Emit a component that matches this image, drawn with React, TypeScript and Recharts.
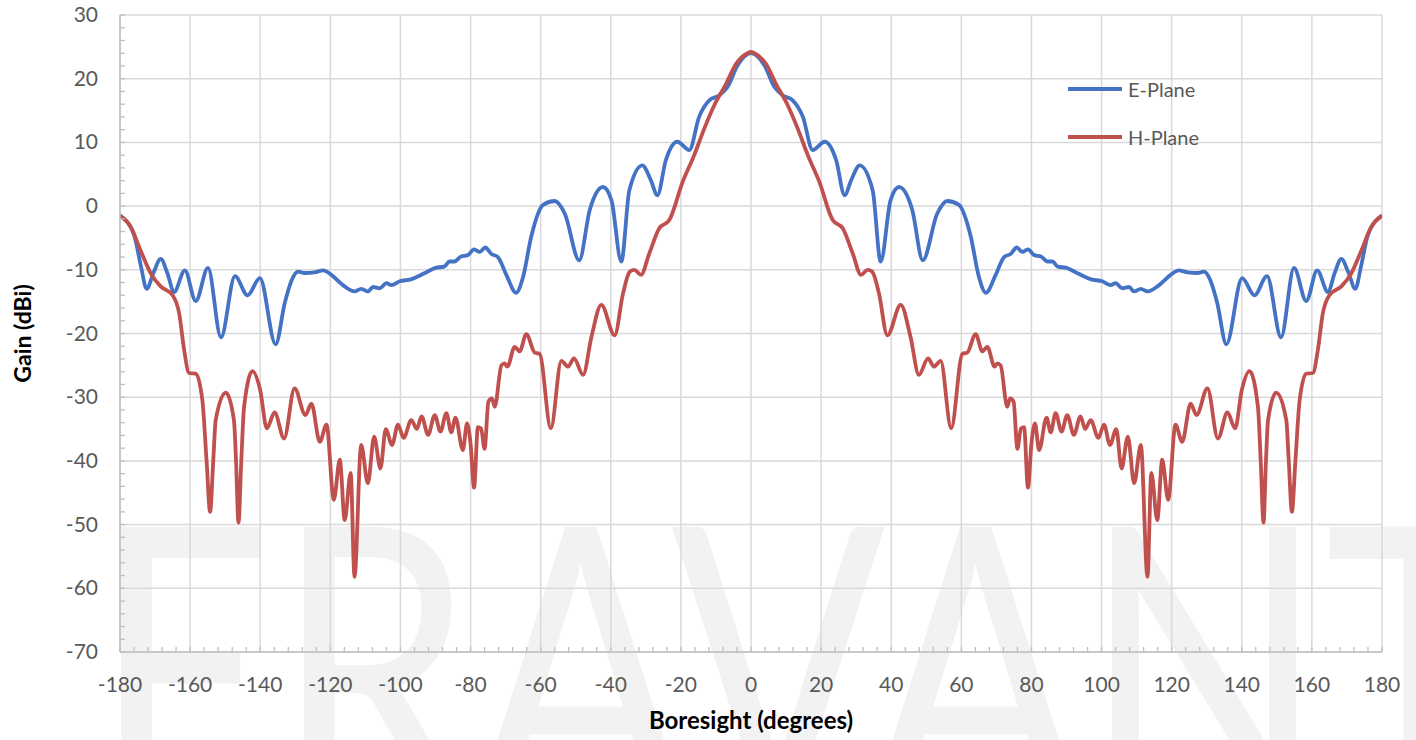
import { LineChart, Line, XAxis, YAxis, CartesianGrid, Legend } from 'recharts';

// E-plane cut (blue)
const E_ANGLES = [
  -180, -176, -174, -172.4, -170.4, -168.4, -166.5, -164.6, -161.5, -158.4, -154.9, -151.2, -147.2, -143.6, -140.1,
  -135.6, -133, -131, -129.2, -127.3, -124.5, -122, -119.7, -116.4, -113.1, -111.2, -109.3, -107.8, -105.9, -104,
  -102.6, -100.2, -97, -93, -90, -87.5, -86, -84.6, -82.7, -80.8, -79, -77.4, -75.8, -74.1, -72.2, -69.8, -67, -65,
  -62.7, -59.3, -56, -53.1, -49, -46, -42.2, -39.8, -37, -34.7, -31, -28.6, -26.7, -24.3, -21, -17.6, -14.8, -11.9,
  -9, -6.7, -3.8, 0,
  3.8, 6.7, 9, 11.9, 14.8, 17.6, 21, 24.3, 26.7, 28.6, 31, 34.7, 37, 39.8, 42.2, 46, 49, 53.1, 56, 59.3, 62.7, 65,
  67, 69.8, 72.2, 74.1, 75.8, 77.4, 79, 80.8, 82.7, 84.6, 86, 87.5, 90, 93, 97, 100.2, 102.6, 104, 105.9, 107.8,
  109.3, 111.2, 113.1, 116.4, 119.7, 122, 124.5, 127.3, 129.2, 131, 133, 135.6, 140.1, 143.6, 147.2, 151.2, 154.9,
  158.4, 161.5, 164.6, 166.5, 168.4, 170.4, 172.4, 174, 176, 180,
];
const E_GAIN = [
  -1.5, -4.5, -9.5, -13, -10.4, -8.3, -10.5, -13.5, -10.1, -14.9, -9.7, -20.6, -11, -14, -11.3,
  -21.7, -15.2, -11.6, -10.3, -10.5, -10.4, -10.1, -10.8, -12.4, -13.4, -13, -13.4, -12.7, -12.9, -12.1,
  -12.4, -11.8, -11.5, -10.5, -9.7, -9.5, -8.7, -8.7, -7.9, -7.7, -6.8, -7.2, -6.5, -7.5, -8, -10.8, -13.6, -11.1,
  -4.8, 0.2, 0.8, -1.2, -8.5, -0.6, 3, 0.9, -8.7, 2.5, 6.4, 4.1, 1.7, 7.2, 10.1, 8.8, 14, 16.6,
  17.4, 18.7, 22.1, 24,
  22.1, 18.7, 17.4, 16.6, 14, 8.8, 10.1, 7.2, 1.7, 4.1, 6.4, 2.5, -8.7, 0.9, 3, -0.6, -8.5, -1.2, 0.8, 0.2, -4.8, -11.1,
  -13.6, -10.8, -8, -7.5, -6.5, -7.2, -6.8, -7.7, -7.9, -8.7, -8.7, -9.5, -9.7, -10.5, -11.5, -11.8, -12.4, -12.1, -12.9, -12.7,
  -13.4, -13, -13.4, -12.4, -10.8, -10.1, -10.4, -10.5, -10.3, -11.6, -15.2, -21.7, -11.3, -14, -11, -20.6, -9.7,
  -14.9, -10.1, -13.5, -10.5, -8.3, -10.4, -13, -9.5, -4.5, -1.5,
];

// H-plane cut (red)
const H_ANGLES = [
  -180, -176.9, -174.1, -171.2, -168.4, -165, -163.1, -161.7, -160.3, -158.4, -156.5, -155.3, -154.3, -153.4, -152.7,
  -149.8, -147.5, -146.9, -146.2, -145.4, -144.6, -142.2, -140, -138.1, -135.9, -133.2, -130.2, -127.1, -125.4, -123,
  -121.1, -119, -117.3, -115.9, -114.2, -113.1, -111.2, -109.3, -107.5, -105.7, -104.2, -102.4, -100.7, -99.1, -96.9,
  -95.3, -94, -92.1, -90.2, -88.6, -86.9, -85.5, -84.3, -82.2, -81, -80, -79, -77.9, -77, -76, -74.9, -73.9, -73.1,
  -71.2, -70.3, -69.5, -67.4, -66, -64.1, -61.7, -60.3, -57.1, -54.1, -52.2, -50.5, -47.9, -45.5, -42.7, -38.9, -36.5,
  -34.6, -33.3, -31.4, -29, -26.2, -23.3, -19.5, -16.2, -13.3, -10.5, -7.1, -4.3, -1, 0,
  1, 4.3, 7.1, 10.5, 13.3, 16.2, 19.5, 23.3, 26.2, 29, 31.4, 33.3, 34.6, 36.5, 38.9, 42.7, 45.5, 47.9, 50.5, 52.2, 54.1,
  57.1, 60.3, 61.7, 64.1, 66, 67.4, 69.5, 70.3, 71.2, 73.1, 73.9, 74.9, 76, 77, 77.9, 79, 80, 81, 82.2, 84.3, 85.5, 86.9,
  88.6, 90.2, 92.1, 94, 95.3, 96.9, 99.1, 100.7, 102.4, 104.2, 105.7, 107.5, 109.3, 111.2, 113.1, 114.2, 115.9, 117.3,
  119, 121.1, 123, 125.4, 127.1, 130.2, 133.2, 135.9, 138.1, 140, 142.2, 144.6, 145.4, 146.2, 146.9, 147.5, 149.8,
  152.7, 153.4, 154.3, 155.3, 156.5, 158.4, 160.3, 161.7, 163.1, 165, 168.4, 171.2, 174.1, 176.9, 180,
];
const H_GAIN = [
  -1.5, -3.3, -7, -10.6, -12.6, -14, -16.9, -22.6, -26.2, -26.3, -30.5, -40, -48, -40, -33.6,
  -29.3, -33.6, -40, -49.7, -40, -31.5, -25.9, -28.9, -34.9, -32.4, -36.5, -28.6, -32.8, -31, -37,
  -34.3, -46.1, -39.8, -49.3, -41.9, -58.2, -37.5, -43.5, -36.2, -41.2, -35, -37.5, -34.3, -36.4, -33.6,
  -35, -33, -35.9, -32.8, -35.4, -32.5, -35.5, -33.2, -38.3, -34.1, -37.3, -44.2, -34.7, -34.9, -38.1, -30.7, -30.2, -31.5,
  -25, -24.7, -25.2, -22.1, -22.8, -20.1, -23, -23.2, -34.9, -24.3, -25.2, -23.9, -26.5, -20.5, -15.5, -20.3, -13.7,
  -10.3, -10, -10.8, -7.4, -3.5, -2.2, 3.8, 8, 12.2, 15.8, 19.2, 22.3, 24, 24.2,
  24, 22.3, 19.2, 15.8, 12.2, 8, 3.8, -2.2, -3.5, -7.4, -10.8, -10, -10.3, -13.7, -20.3, -15.5, -20.5, -26.5, -23.9, -25.2, -24.3,
  -34.9, -23.2, -23, -20.1, -22.8, -22.1, -25.2, -24.7, -25, -31.5, -30.2, -30.7, -38.1, -34.9, -34.7, -44.2, -37.3, -34.1, -38.3, -33.2, -35.5, -32.5,
  -35.4, -32.8, -35.9, -33, -35, -33.6, -36.4, -34.3, -37.5, -35, -41.2, -36.2, -43.5, -37.5, -58.2, -41.9, -49.3, -39.8,
  -46.1, -34.3, -37, -31, -32.8, -28.6, -36.5, -32.4, -34.9, -28.9, -25.9, -31.5, -40, -49.7, -40, -33.6, -29.3,
  -33.6, -40, -48, -40, -30.5, -26.3, -26.2, -22.6, -16.9, -14, -12.6, -10.6, -7, -3.3, -1.5,
];

const X_LABELS = [-180, -160, -140, -120, -100, -80, -60, -40, -20, 0, 20, 40, 60, 80, 100, 120, 140, 160, 180];
const Y_LABELS = [-70, -60, -50, -40, -30, -20, -10, 0, 10, 20, 30];

// minor tick marks: every 4 deg on x, every 2 dB on y
const X_MINOR = Array.from({ length: 91 }, (_, i) => -180 + i * 4);
const Y_MINOR = Array.from({ length: 51 }, (_, i) => -70 + i * 2);

const ePlane = E_ANGLES.map((angle, i) => ({ angle, gain: E_GAIN[i] }));
const hPlane = H_ANGLES.map((angle, i) => ({ angle, gain: H_GAIN[i] }));

const FONT = "Lato, 'Open Sans', sans-serif";
const AXIS_GREY = '#bfbfbf';
const TEXT_GREY = '#595959';

const XTick = ({ x, y, payload }: any) => {
  const v = payload.value;
  const major = X_LABELS.includes(v);
  return (
    <g>
      <line x1={x} x2={x} y1={y} y2={y - 5} stroke={AXIS_GREY} strokeWidth={1.3} />
      {major && (
        <text x={x} y={y + 40} textAnchor="middle" fill={TEXT_GREY} fontSize={21} fontFamily={FONT}>
          {v}
        </text>
      )}
    </g>
  );
};

const YTick = ({ x, y, payload }: any) => {
  const v = payload.value;
  const major = Y_LABELS.includes(v);
  return (
    <g>
      <line x1={x} x2={x + 5} y1={y} y2={y} stroke={AXIS_GREY} strokeWidth={1.3} />
      {major && (
        <text x={x - 22} y={y} dy={7} textAnchor="end" fill={TEXT_GREY} fontSize={21} fontFamily={FONT}>
          {v}
        </text>
      )}
    </g>
  );
};

const renderLegend = ({ payload }: any) => (
  <div style={{ fontFamily: FONT }}>
    {(payload || []).map((p: any) => (
      <div key={p.value} style={{ display: 'flex', alignItems: 'center', height: 48 }}>
        <svg width={54} height={8}>
          <line x1={0} x2={54} y1={4} y2={4} stroke={p.color} strokeWidth={4} />
        </svg>
        <span style={{ marginLeft: 6, fontSize: 20, color: TEXT_GREY }}>{p.value}</span>
      </div>
    ))}
  </div>
);

const xTitle = ({ viewBox }: any) => (
  <text
    x={viewBox.x + viewBox.width / 2}
    y={viewBox.y + 77}
    textAnchor="middle"
    fontSize={24}
    fontWeight="bold"
    fontFamily={FONT}
    fill="#000"
  >
    Boresight (degrees)
  </text>
);

const yTitle = ({ viewBox }: any) => {
  const cx = 22;
  const cy = viewBox.y + viewBox.height / 2;
  return (
    <text
      x={cx}
      y={cy}
      transform={`rotate(-90, ${cx}, ${cy})`}
      textAnchor="middle"
      dominantBaseline="central"
      fontSize={23}
      fontWeight="bold"
      fontFamily={FONT}
      fill="#000"
    >
      Gain (dBi)
    </text>
  );
};

export default function App() {
  return (
    <div style={{ position: 'absolute', left: 0, top: 0, width: 1416, height: 740, background: '#fff', overflow: 'hidden' }}>
      {/* faint brand watermark behind the plot */}
      <svg width={1416} height={740} style={{ position: 'absolute', left: 0, top: 0 }}>
        <text
          x={92}
          y={813}
          fontSize={400}
          fontFamily={FONT}
          fill="#f2f2f2"
          textLength={1420}
          lengthAdjust="spacingAndGlyphs"
        >
          ERAVANT
        </text>
      </svg>
      <div style={{ position: 'absolute', left: 0, top: 0 }}>
        <LineChart width={1416} height={740} margin={{ top: 15, right: 34, bottom: 0, left: 0 }}>
          <CartesianGrid
            stroke="#d9d9d9"
            strokeWidth={1.5}
            horizontalValues={Y_LABELS}
            verticalValues={X_LABELS}
          />
          <XAxis
            type="number"
            dataKey="angle"
            domain={[-180, 180]}
            ticks={X_MINOR}
            interval={0}
            height={88}
            tickSize={0}
            tickMargin={0}
            tickLine={false}
            axisLine={{ stroke: AXIS_GREY, strokeWidth: 1.5 }}
            tick={<XTick />}
            label={{ content: xTitle }}
            allowDataOverflow
          />
          <YAxis
            type="number"
            domain={[-70, 30]}
            ticks={Y_MINOR}
            interval={0}
            width={120}
            tickSize={0}
            tickMargin={0}
            tickLine={false}
            axisLine={{ stroke: AXIS_GREY, strokeWidth: 1.5 }}
            tick={<YTick />}
            label={{ content: yTitle }}
            allowDataOverflow
          />
          <Legend
            layout="vertical"
            align="center"
            verticalAlign="middle"
            wrapperStyle={{ left: 1068, top: 65, width: 200 }}
            content={renderLegend}
          />
          <Line
            data={ePlane}
            dataKey="gain"
            name="E-Plane"
            type="monotone"
            stroke="#4472C4"
            strokeWidth={3.8}
            dot={false}
            activeDot={false}
            isAnimationActive={false}
          />
          <Line
            data={hPlane}
            dataKey="gain"
            name="H-Plane"
            type="monotone"
            stroke="#C0504D"
            strokeWidth={3.8}
            dot={false}
            activeDot={false}
            isAnimationActive={false}
          />
        </LineChart>
      </div>
    </div>
  );
}
